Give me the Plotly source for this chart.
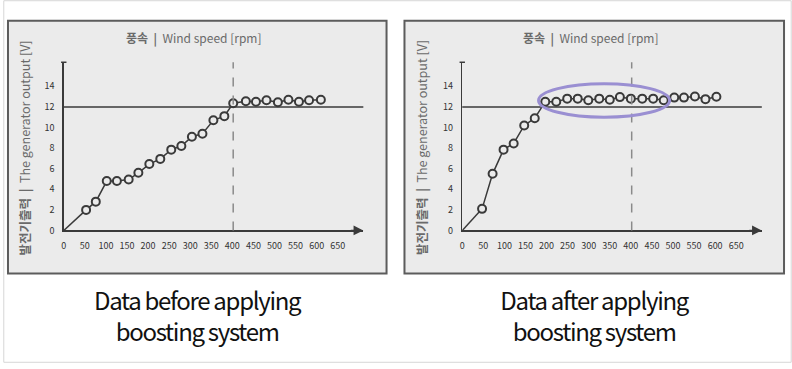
import plotly.graph_objects as go

# ---- data ----
before_x = [0, 53, 76, 102, 126, 154, 177, 203, 229, 255, 279, 304, 329, 355, 381,
            402, 432, 456, 481, 508, 533, 558, 582, 610]
before_y = [0, 2.0, 2.8, 4.8, 4.8, 4.95, 5.6, 6.45, 6.95, 7.85, 8.2, 9.1, 9.4, 10.7, 11.1,
            12.35, 12.55, 12.5, 12.65, 12.45, 12.7, 12.5, 12.65, 12.7]
after_x = [0, 47, 72, 98, 122, 147, 172, 197, 223, 249, 274, 299, 325, 350, 374,
           400, 427, 453, 478, 503, 526, 552, 577, 603]
after_y = [0, 2.1, 5.5, 7.85, 8.45, 10.2, 10.9, 12.5, 12.5, 12.8, 12.8, 12.65, 12.8, 12.7, 12.95,
           12.8, 12.8, 12.8, 12.65, 12.9, 12.9, 13.0, 12.75, 12.98]
x_ticks = [0, 50, 100, 150, 200, 250, 300, 350, 400, 450, 500, 550, 600, 650]
y_ticks = [0, 2, 4, 6, 8, 10, 12, 14]
threshold = 12
dashed_x = 402
ellipse_x = [181, 492]
ellipse_y = [11.0, 14.25]
x_title = "<b>풍속</b>  <b>|</b>  Wind speed [rpm]"
y_title = "<b>발전기출력</b>  <b>|</b>  The generator output [V]"
captions = ["Data before applying<br>boosting system", "Data after applying<br>boosting system"]

W, H = 792, 369
INK = "#3a3a3a"
PANEL_BG = "#ebebeb"

fig = go.Figure()

def px_x(p):
    return p / W

def px_y(p):
    return 1 - p / H

for i, (xs, ys) in enumerate([(before_x, before_y), (after_x, after_y)]):
    suffix = "" if i == 0 else "2"
    fig.add_trace(go.Scatter(
        x=xs[:2], y=ys[:2], mode="lines",
        line=dict(color=INK, width=1.5), xaxis="x" + suffix, yaxis="y" + suffix,
        showlegend=False, hoverinfo="skip"))
    fig.add_trace(go.Scatter(
        x=xs[1:], y=ys[1:], mode="lines+markers",
        line=dict(color=INK, width=1.5),
        marker=dict(symbol="circle", size=8, color=PANEL_BG, line=dict(color=INK, width=2)),
        xaxis="x" + suffix, yaxis="y" + suffix, showlegend=False))

# panel geometry in pixels
panels = [(5, 385), (403, 784)]
origin_x = [61, 461]
axis_end = [361.7, 761.7]
y0_px, ytop_px = 234.3, 63.3

shapes = []
annotations = []
for i, (l, r) in enumerate(panels):
    shapes.append(dict(type="rect", xref="paper", yref="paper",
                       x0=px_x(l), x1=px_x(r), y0=px_y(278), y1=px_y(21),
                       fillcolor=PANEL_BG, line=dict(color="#5c5c5c", width=2), layer="below"))
    cx = (l + r) / 2
    annotations.append(dict(text=x_title, xref="paper", yref="paper",
                            x=px_x(cx - 3), y=px_y(39), showarrow=False,
                            font=dict(family="Noto Sans CJK KR", size=12, color="#6a6a6a"),
                            xanchor="center", yanchor="middle"))
    annotations.append(dict(text=y_title, xref="paper", yref="paper",
                            x=px_x(l + 17), y=px_y(150), textangle=-90, showarrow=False,
                            font=dict(family="Noto Sans CJK KR", size=12.5, color="#6a6a6a"),
                            xanchor="center", yanchor="middle"))
    annotations.append(dict(text=captions[i], xref="paper", yref="paper",
                            x=px_x(cx), y=px_y(320), showarrow=False, align="center",
                            font=dict(family="Noto Sans CJK KR", size=24, color="#111111"),
                            xanchor="center", yanchor="middle", name="caption"))
    suffix = "" if i == 0 else "2"
    xr = "x" + suffix
    yr = "y" + suffix
    # x-axis arrow head
    annotations.append(dict(text="", x=1, y=0, xref=xr + " domain", yref=yr + " domain",
                            ax=-14, ay=0, showarrow=True, arrowhead=2, arrowsize=1.3,
                            arrowwidth=1.5, arrowcolor=INK))
    # y-axis top cap
    shapes.append(dict(type="line", xref=xr + " domain", yref=yr + " domain",
                       x0=-0.009, x1=0.009, y0=1, y1=1, line=dict(color=INK, width=1.5)))
    # 12 V reference line
    shapes.append(dict(type="line", xref=xr + " domain", yref=yr,
                       x0=0, x1=1, y0=threshold, y1=threshold, line=dict(color=INK, width=1.5)))
    # dashed divider
    shapes.append(dict(type="line", xref=xr, yref=yr + " domain",
                       x0=dashed_x, x1=dashed_x, y0=0, y1=1,
                       line=dict(color="#8a8a8a", width=1.5, dash="dash")))

shapes.append(dict(type="circle", xref="x2", yref="y2",
                   x0=ellipse_x[0], x1=ellipse_x[1], y0=ellipse_y[0], y1=ellipse_y[1],
                   line=dict(color="#9a8fd2", width=3)))
# outer frame
shapes.append(dict(type="rect", xref="paper", yref="paper", x0=0.001, x1=0.999, y0=0.002, y1=0.998,
                   line=dict(color="#d6d6d6", width=1), layer="below"))

x_range = [0, (axis_end[0] - origin_x[0]) / ((336 - 61) / 650)]
y_range = [0, (y0_px - ytop_px) / ((y0_px - 87.7) / 14)]

axis_common = dict(showgrid=False, zeroline=False, showline=True, linecolor=INK, linewidth=1.5,
                   ticks="outside", ticklen=6, tickcolor="rgba(0,0,0,0)",
                   tickfont=dict(family="Noto Sans CJK KR", size=9, color="#333333"))

layout = dict(
    width=W, height=H, margin=dict(l=0, r=0, t=0, b=0),
    paper_bgcolor="white", plot_bgcolor="rgba(0,0,0,0)",
    shapes=shapes, annotations=annotations, hovermode=False,
)
for i in range(2):
    suffix = "" if i == 0 else "2"
    layout["xaxis" + suffix] = dict(axis_common, range=x_range, tickvals=x_ticks,
                                    domain=[px_x(origin_x[i]), px_x(axis_end[i])],
                                    anchor="y" + suffix, fixedrange=True)
    layout["yaxis" + suffix] = dict(axis_common, range=y_range, tickvals=y_ticks,
                                    domain=[px_y(y0_px), px_y(ytop_px)],
                                    anchor="x" + suffix, fixedrange=True)
fig.update_layout(**layout)

post = """
document.body.style.margin='0';
document.body.style.overflow='hidden';
document.querySelectorAll('.annotation-text').forEach(function(t){
  if (t.textContent.indexOf('boosting') >= 0) { t.style.letterSpacing = '-1.3px'; }
});
"""
fig.write_html("out.html", post_script=post, config={"displayModeBar": False, "staticPlot": True})
